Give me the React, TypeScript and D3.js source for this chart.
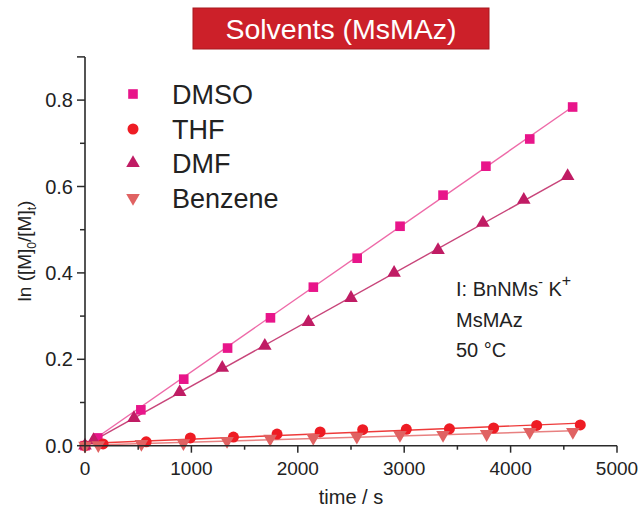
import React from "react";
import * as d3 from "d3";

const xTicks = [0, 1000, 2000, 3000, 4000, 5000];
const yTicks = [0.0, 0.2, 0.4, 0.6, 0.8];

const tDMSO = [0, 120, 525, 928, 1340, 1743, 2146, 2558, 2961, 3365, 3768, 4180, 4583];
const vDMSO = [0, 0.018, 0.083, 0.154, 0.226, 0.296, 0.367, 0.434, 0.508, 0.58, 0.647, 0.71, 0.784];
const tTHF = [0, 170, 575, 990, 1395, 1805, 2210, 2610, 3020, 3425, 3840, 4245, 4655];
const vTHF = [0, 0.004, 0.009, 0.018, 0.02, 0.027, 0.032, 0.037, 0.038, 0.039, 0.041, 0.047, 0.048];
const tDMF = [0, 80, 460, 890, 1290, 1690, 2100, 2500, 2905, 3318, 3740, 4124, 4536];
const vDMF = [0, 0.013, 0.064, 0.124, 0.18, 0.231, 0.286, 0.342, 0.4, 0.453, 0.516, 0.569, 0.624];
const tBenz = [0, 125, 530, 925, 1335, 1740, 2145, 2555, 2960, 3365, 3775, 4180, 4585];
const vBenz = [0, 0.001, 0.004, 0.006, 0.011, 0.016, 0.018, 0.021, 0.025, 0.025, 0.027, 0.032, 0.032];

const seriesNames = ["DMSO", "THF", "DMF", "Benzene"];
const markerColors = ["#e8158a", "#ee1c24", "#c01c64", "#e06262"];
const lineColors = ["#ee6aa8", "#ee3a3a", "#c8457a", "#e88080"];
const shapes = ["square", "circle", "triangle", "triangleDown"];

const FONT = "Liberation Sans, Arial, sans-serif";

function fit(ts: number[], vs: number[]) {
  const mx = d3.mean(ts)!;
  const my = d3.mean(vs)!;
  let num = 0, den = 0;
  ts.forEach((t, i) => { num += (t - mx) * (vs[i] - my); den += (t - mx) * (t - mx); });
  const b = num / den;
  const a = my - b * mx;
  return (t: number) => a + b * t;
}

function Marker({ shape, x, y, color }: { shape: string; x: number; y: number; color: string }) {
  if (shape === "square") return <rect x={x - 4.8} y={y - 4.8} width={9.6} height={9.6} fill={color} />;
  if (shape === "circle") return <circle cx={x} cy={y} r={5.5} fill={color} />;
  const p = d3.symbol(d3.symbolTriangle, 80)()!;
  return <path d={p} fill={color} transform={`translate(${x},${y})${shape === "triangleDown" ? " rotate(180)" : ""}`} />;
}

export default function App() {
  const x = d3.scaleLinear().domain([0, 5000]).range([85, 617]);
  const y = d3.scaleLinear().domain([0, 0.9]).range([445.7, 56.9]);
  const data = [
    [tDMSO, vDMSO],
    [tTHF, vTHF],
    [tDMF, vDMF],
    [tBenz, vBenz],
  ];
  const xMinor = d3.range(500, 5000, 1000);
  const yMinor = [0.1, 0.3, 0.5, 0.7];
  const axisColor = "#2a2a2a";
  const legendY = [94, 129, 163, 198];

  return (
    <svg width={642} height={509} style={{ position: "absolute", left: 0, top: 0, background: "#fff" }} fontFamily={FONT}>
      {/* title */}
      <rect x={193} y={8} width={296} height={41} fill="#cc2029" stroke="#a8181e" strokeWidth={1} />
      <text x={341} y={38.5} textAnchor="middle" fill="#fff" fontSize={28.5}>Solvents (MsMAz)</text>

      {/* fit lines */}
      {data.map(([ts, vs], i) => {
        const f = fit(ts, vs);
        const x1 = 0, x2 = d3.max(ts)!;
        return <line key={"l" + i} x1={x(x1)} y1={y(Math.max(0, f(x1)))} x2={x(x2)} y2={y(f(x2))} stroke={lineColors[i]} strokeWidth={1.4} />;
      })}

      {/* markers */}
      {data.map(([ts, vs], i) => (
        <g key={"m" + i}>
          {ts.map((t, j) => <Marker key={j} shape={shapes[i]} x={x(t)} y={y(vs[j])} color={markerColors[i]} />)}
        </g>
      ))}

      {/* axes */}
      <line x1={x(0)} y1={y(0)} x2={x(5000)} y2={y(0)} stroke={axisColor} strokeWidth={1.6} />
      <line x1={x(0)} y1={y(0)} x2={x(0)} y2={y(0.9)} stroke={axisColor} strokeWidth={1.6} />
      {xTicks.map((t) => (
        <g key={"xt" + t}>
          <line x1={x(t)} x2={x(t)} y1={y(0)} y2={y(0) + 7} stroke={axisColor} strokeWidth={1.5} />
          <text x={x(t)} y={475} textAnchor="middle" fontSize={19} fill="#222">{t}</text>
        </g>
      ))}
      {xMinor.map((t) => (
        <line key={"xm" + t} x1={x(t)} x2={x(t)} y1={y(0)} y2={y(0) + 4} stroke={axisColor} strokeWidth={1.5} />
      ))}
      {yTicks.map((v) => (
        <g key={"yt" + v}>
          <line x1={x(0) - 8} x2={x(0)} y1={y(v)} y2={y(v)} stroke={axisColor} strokeWidth={1.5} />
          <text x={73} y={y(v) + 7} textAnchor="end" fontSize={20} fill="#222">{v.toFixed(1)}</text>
        </g>
      ))}
      {yMinor.map((v) => (
        <line key={"ym" + v} x1={x(0) - 5} x2={x(0)} y1={y(v)} y2={y(v)} stroke={axisColor} strokeWidth={1.5} />
      ))}
      <line x1={x(0) - 8} x2={x(0)} y1={y(0.9)} y2={y(0.9)} stroke={axisColor} strokeWidth={1.5} />

      {/* axis titles */}
      <text x={351} y={504} textAnchor="middle" fontSize={20} fill="#222">time / s</text>
      <text transform="translate(31,251) rotate(-90)" textAnchor="middle" fontSize={19} fill="#222">
        ln ([M]<tspan fontSize={12} dy={5}>0</tspan><tspan dy={-5}>/[M]</tspan><tspan fontSize={12} dy={5}>t</tspan><tspan dy={-5}>)</tspan>
      </text>

      {/* legend */}
      {seriesNames.map((n, i) => (
        <g key={"lg" + i}>
          <Marker shape={shapes[i]} x={133} y={legendY[i]} color={markerColors[i]} />
          <text x={172} y={legendY[i] + 10} fontSize={27} fill="#222">{n}</text>
        </g>
      ))}

      {/* annotation */}
      <g fontSize={20} fill="#222">
        <text x={456} y={296}>
          I: BnNMs<tspan fontSize={14} dy={-9}>-</tspan><tspan dy={9}> K</tspan><tspan fontSize={16} dy={-10}>+</tspan>
        </text>
        <text x={456} y={327}>MsMAz</text>
        <text x={456} y={357}>50 °C</text>
      </g>
    </svg>
  );
}
